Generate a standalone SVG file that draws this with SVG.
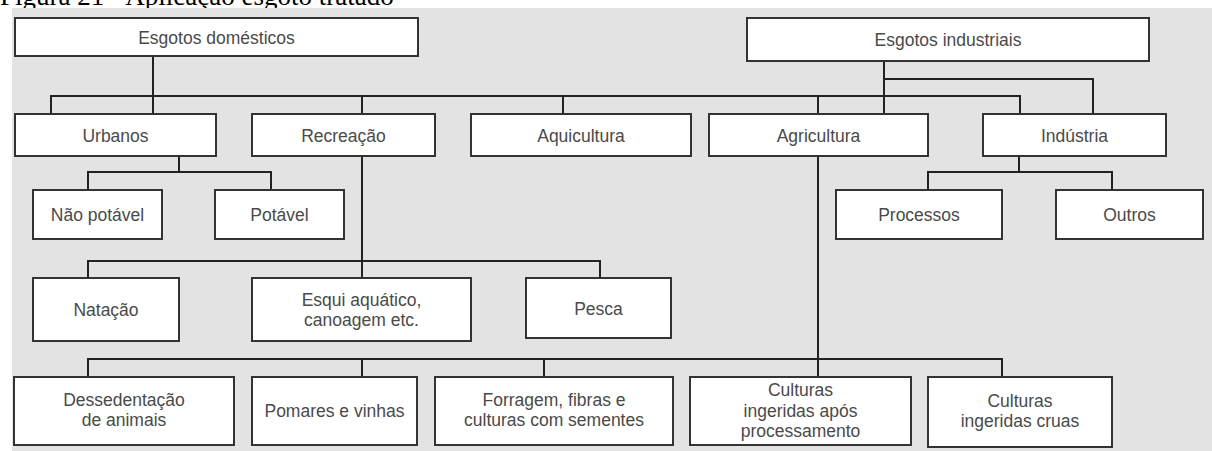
<svg xmlns="http://www.w3.org/2000/svg" width="1212" height="451" viewBox="0 0 1212 451">
<style>
.title{font-family:"Liberation Serif","Times New Roman",serif;font-size:27px;fill:#000}
.box rect{fill:#fff;stroke:#333;stroke-width:2}
.box text{font-family:"Liberation Sans",Arial,Helvetica,sans-serif;font-size:17.5px;fill:#4a4a4a;text-anchor:middle}
#connectors path{fill:none;stroke:#222;stroke-width:2}
</style>
<rect x="0" y="0" width="1212" height="451" fill="#fff"/>
<text class="title" x="0" y="5">Figura 21 - Aplicação esgoto tratado</text>
<rect x="12" y="8" width="1200" height="443" fill="#e3e3e3"/>
<g id="connectors">
<path d="M153 56V114M51 114V96H1020V114M362 96V114M563 96V114M818 96V114"/>
<path d="M884 61V114M884 79H1093V114"/>
<path d="M179 156V172M88 190V172H271V190"/>
<path d="M1019 156V172M928 190V172H1112V190"/>
<path d="M362 156V278M88 278V261H600V278"/>
<path d="M818 156V377M88 377V359H1002V377M362 359V377M544 359V377"/>
</g>
<g id="n-domesticos" class="box"><rect x="15" y="18" width="403" height="38"/><text x="216.5" y="43.5">Esgotos domésticos</text></g>
<g id="n-industriais" class="box"><rect x="747" y="18" width="402" height="43"/><text x="948" y="46">Esgotos industriais</text></g>
<g id="n-urbanos" class="box"><rect x="15" y="114" width="201" height="42"/><text x="115.5" y="141.5">Urbanos</text></g>
<g id="n-recreacao" class="box"><rect x="252" y="114" width="183" height="42"/><text x="343.5" y="141.5">Recreação</text></g>
<g id="n-aquicultura" class="box"><rect x="471" y="114" width="220" height="42"/><text x="581" y="141.5">Aquicultura</text></g>
<g id="n-agricultura" class="box"><rect x="709" y="114" width="219" height="42"/><text x="818.5" y="141.5">Agricultura</text></g>
<g id="n-industria" class="box"><rect x="983" y="114" width="183" height="42"/><text x="1074.5" y="141.5">Indústria</text></g>
<g id="n-naopotavel" class="box"><rect x="33" y="190" width="129" height="49"/><text x="97.5" y="221">Não potável</text></g>
<g id="n-potavel" class="box"><rect x="215" y="190" width="129" height="49"/><text x="279.5" y="221">Potável</text></g>
<g id="n-processos" class="box"><rect x="836" y="190" width="166" height="49"/><text x="919" y="221">Processos</text></g>
<g id="n-outros" class="box"><rect x="1056" y="190" width="147" height="49"/><text x="1129.5" y="221">Outros</text></g>
<g id="n-natacao" class="box"><rect x="33" y="278" width="146" height="63"/><text x="106" y="316">Natação</text></g>
<g id="n-esqui" class="box"><rect x="252" y="278" width="219" height="63"/><text x="361.5" y="306">Esqui aquático,</text><text x="361.5" y="325.5">canoagem etc.</text></g>
<g id="n-pesca" class="box"><rect x="526" y="278" width="145" height="60"/><text x="598.5" y="314.5">Pesca</text></g>
<g id="n-dessedentacao" class="box"><rect x="14" y="377" width="220" height="68"/><text x="124" y="406">Dessedentação</text><text x="124" y="426">de animais</text></g>
<g id="n-pomares" class="box"><rect x="252" y="377" width="165" height="68"/><text x="334.5" y="417">Pomares e vinhas</text></g>
<g id="n-forragem" class="box"><rect x="435" y="377" width="238" height="68"/><text x="554" y="406">Forragem, fibras e</text><text x="554" y="426">culturas com sementes</text></g>
<g id="n-culturasproc" class="box"><rect x="690" y="377" width="221" height="68"/><text x="800.5" y="396">Culturas</text><text x="800.5" y="416.5">ingeridas após</text><text x="800.5" y="437">processamento</text></g>
<g id="n-culturascruas" class="box"><rect x="928" y="377" width="184" height="70"/><text x="1020" y="406.5">Culturas</text><text x="1020" y="427">ingeridas cruas</text></g>
</svg>
